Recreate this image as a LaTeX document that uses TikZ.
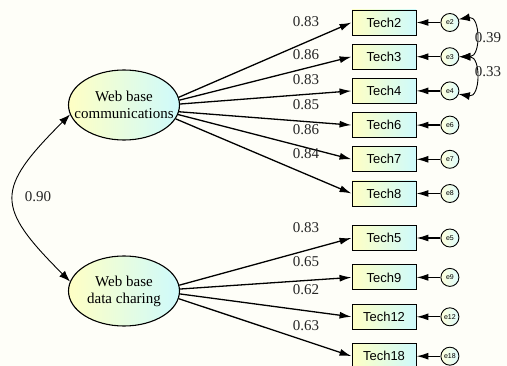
\documentclass[tikz,border=0pt]{standalone}
\usepackage{fontspec}
\setmainfont{Liberation Serif}
\newfontfamily\itemfont{Liberation Sans}
\usetikzlibrary{arrows.meta, positioning, shapes.geometric}
\definecolor{paper}{RGB}{254,254,248}
\definecolor{lightyellow}{RGB}{255,255,196}
\definecolor{lightcyan}{RGB}{206,250,252}
\tikzset{
    latent/.style={ellipse, draw, line width=1.1pt, left color=lightyellow, right color=lightcyan, minimum width=111pt, minimum height=70pt, inner xsep=-15pt, inner ysep=0pt, align=center, font=\fontsize{15}{17}\selectfont},
    item/.style={rectangle, draw, line width=0.9pt, left color=lightyellow, right color=lightcyan, minimum width=64pt, minimum height=25pt, inner sep=0pt, font=\itemfont\fontsize{13}{13}\selectfont},
    err/.style={circle, draw, line width=0.9pt, left color=lightyellow!60, right color=lightcyan!70, minimum size=18pt, inner sep=0.5pt, font=\itemfont\fontsize{7}{7}\selectfont},
    coef/.style={font=\fontsize{15}{15}\selectfont, text=black!85},
    arrow/.style={-{Latex[length=12pt, width=7pt]}, line width=1.3pt},
    twoway/.style={{Latex[length=11pt, width=8pt]}-{Latex[length=11pt, width=8pt]}, line width=0.9pt},
}
\begin{document}
\begin{tikzpicture}[x=1pt, y=-1pt, node distance=8.3pt and 24pt]
    \useasboundingbox (0,0) rectangle (507,366);
    \fill[paper] (0,0) rectangle (507,366);
    % latent factors
    \node[latent] (comm) at (124,105) {Web base\\communications};
    \node[latent] (share) at (124,291) {Web base\\data charing};
    % observed items
    \node[item] (t2) at (384,22.5) {Tech2};
    \node[item, below=of t2] (t3) {Tech3};
    \node[item, below=of t3] (t4) {Tech4};
    \node[item, below=of t4] (t6) {Tech6};
    \node[item, below=of t6] (t7) {Tech7};
    \node[item, below=of t7] (t8) {Tech8};
    \node[item] (t5) at (384,238) {Tech5};
    \node[item, below=13.5pt of t5] (t9) {Tech9};
    \node[item, below=13.5pt of t9] (t12) {Tech12};
    \node[item, below=13.5pt of t12] (t18) {Tech18};
    % errors
    \foreach \t in {2,3,4,6,7,8,5,9,12,18} {
        \node[err, right=of t\t] (e\t) {e\t};
        \draw[arrow] (e\t) -- (t\t);
    }
    % loadings
    \foreach \t/\a in {2/8,3/5,4/1,6/-7,7/-10,8/-15}
        \draw[arrow] (comm.\a) -- (t\t.west);
    \foreach \t/\a in {5/6,9/2,12/-3,18/-8}
        \draw[arrow] (share.\a) -- (t\t.west);
    \foreach \t/\v/\y in {2/0.83/22,3/0.86/55,4/0.83/80,6/0.85/105,7/0.86/130,8/0.84/154,5/0.83/228,9/0.65/262,12/0.62/290,18/0.63/326}
        \node[coef] (c\t) at (306,\y) {\v};
    % covariances
    \draw[twoway] (comm.190) .. controls +(-75,75) and +(-75,-75) .. (share.170);
    \draw[twoway] (e2.20) to[out=10, in=0, looseness=1.5] (e3.east);
    \draw[twoway] (e3.east) to[out=0, in=-10, looseness=1.5] (e4.-20);
    \node[coef] (r1) at (38,197) {0.90};
    \node[coef] (r2) at (488,38) {0.39};
    \node[coef] (r3) at (488,72) {0.33};
\end{tikzpicture}
\end{document}
